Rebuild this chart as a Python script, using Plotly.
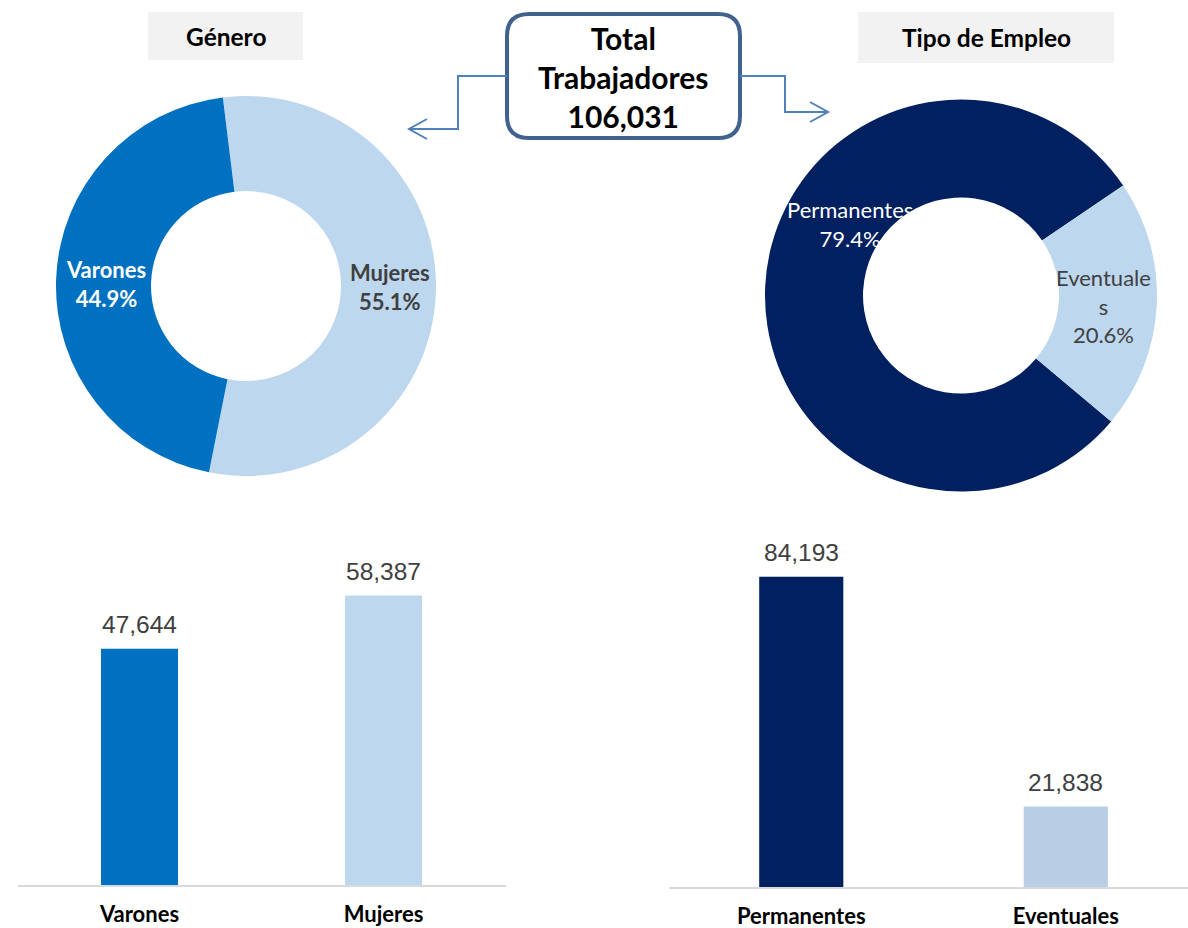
import plotly.graph_objects as go

W, H = 1188, 928

# ---------------- data ----------------
total_label = "Total<br>Trabajadores<br>106,031"
genero_title = "Género"
empleo_title = "Tipo de Empleo"

genero_cats = ["Mujeres", "Varones"]          # pie order (clockwise from top)
genero_vals = [58387, 47644]
genero_colors = ["#BDD7EE", "#0070C0"]
genero_textcolors = ["#404040", "#FFFFFF"]

bar_gen_cats = ["Varones", "Mujeres"]
bar_gen_vals = [47644, 58387]
bar_gen_colors = ["#0070C0", "#BDD7EE"]

empleo_cats = ["Permanentes", "Eventuales"]
empleo_vals = [84193, 21838]
empleo_pie_colors = ["#002060", "#BDD7EE"]
empleo_bar_colors = ["#002060", "#B9CDE5"]
empleo_textcolors = ["#FFFFFF", "#404040"]
empleo_label_text = ["Permanentes", "Eventuale<br>s"]


def X(px):
    return px / W


def Y(py):
    return 1 - py / H


fig = go.Figure()

# ---------------- donuts ----------------
fig.add_trace(go.Pie(
    labels=genero_cats, values=genero_vals, sort=False, direction="clockwise",
    rotation=-7, hole=0.5, textinfo="none",
    marker=dict(colors=genero_colors, line=dict(width=0)),
    domain=dict(x=[X(56), X(436)], y=[Y(476), Y(96)]),
    showlegend=False, hoverinfo="label+value+percent",
))

fig.add_trace(go.Pie(
    labels=empleo_cats, values=empleo_vals, sort=False, direction="clockwise",
    rotation=130, hole=0.5, textinfo="none",
    marker=dict(colors=empleo_pie_colors, line=dict(width=0)),
    domain=dict(x=[X(765), X(1157)], y=[Y(493), Y(98)]),
    showlegend=False, hoverinfo="label+value+percent",
))

# ---------------- bars ----------------
fig.add_trace(go.Bar(
    x=bar_gen_cats, y=bar_gen_vals, marker=dict(color=bar_gen_colors, line=dict(width=0)),
    width=0.316, xaxis="x", yaxis="y", showlegend=False,
))
fig.add_trace(go.Bar(
    x=empleo_cats, y=empleo_vals, marker=dict(color=empleo_bar_colors, line=dict(width=0)),
    width=0.318, xaxis="x2", yaxis="y2", showlegend=False,
))

annotations = []
valfont = dict(family="Liberation Sans", size=24.5, color="#404040")
for c, v in zip(bar_gen_cats, bar_gen_vals):
    annotations.append(dict(x=c, y=v, xref="x", yref="y", text=f"{v:,}", showarrow=False,
                            xanchor="center", yanchor="bottom", yshift=9, font=valfont))
for c, v in zip(empleo_cats, empleo_vals):
    annotations.append(dict(x=c, y=v, xref="x2", yref="y2", text=f"{v:,}", showarrow=False,
                            xanchor="center", yanchor="bottom", yshift=9, font=valfont))

# donut labels
gen_tot = sum(genero_vals)
gen_label_pos = {"Mujeres": (390, 287), "Varones": (106, 284)}
for c, v, col in zip(genero_cats, genero_vals, genero_textcolors):
    px, py = gen_label_pos[c]
    annotations.append(dict(x=X(px), y=Y(py), xref="paper", yref="paper",
                            text=f"<b>{c}</b><br><b>{v / gen_tot:.1%}</b>", showarrow=False,
                            xanchor="center", yanchor="middle",
                            font=dict(family="Lato", size=22, color=col)))
emp_tot = sum(empleo_vals)
emp_label_pos = [(850, 224), (1103, 306)]
for lab, v, col, (px, py) in zip(empleo_label_text, empleo_vals, empleo_textcolors, emp_label_pos):
    annotations.append(dict(x=X(px), y=Y(py), xref="paper", yref="paper",
                            text=f"{lab}<br>{v / emp_tot:.1%}", showarrow=False,
                            xanchor="center", yanchor="middle",
                            font=dict(family="Lato", size=22, color=col)))

# titles
annotations.append(dict(x=X(225.5), y=Y(37), xref="paper", yref="paper", text=f"<b>{genero_title}</b>",
                        showarrow=False, xanchor="center", yanchor="middle",
                        font=dict(family="Lato", size=24.5, color="#000000")))
annotations.append(dict(x=X(986), y=Y(38), xref="paper", yref="paper", text=f"<b>{empleo_title}</b>",
                        showarrow=False, xanchor="center", yanchor="middle",
                        font=dict(family="Lato", size=24.5, color="#000000")))
annotations.append(dict(x=X(623.5), y=Y(77), xref="paper", yref="paper", text=f"<b>{total_label}</b>",
                        showarrow=False, xanchor="center", yanchor="middle",
                        font=dict(family="Lato", size=30, color="#000000")))

shapes = []
shapes.append(dict(type="rect", xref="paper", yref="paper", x0=X(148), x1=X(303), y0=Y(60), y1=Y(12),
                   fillcolor="#F2F2F2", line=dict(width=0), layer="below"))
shapes.append(dict(type="rect", xref="paper", yref="paper", x0=X(858), x1=X(1114), y0=Y(63), y1=Y(12),
                   fillcolor="#F2F2F2", line=dict(width=0), layer="below"))

# rounded rectangle around total
x0, x1, y0, y1, r = 507, 740, 14, 138, 22
pts = (f"M {X(x0+r)},{Y(y0)} L {X(x1-r)},{Y(y0)} Q {X(x1)},{Y(y0)} {X(x1)},{Y(y0+r)} "
       f"L {X(x1)},{Y(y1-r)} Q {X(x1)},{Y(y1)} {X(x1-r)},{Y(y1)} "
       f"L {X(x0+r)},{Y(y1)} Q {X(x0)},{Y(y1)} {X(x0)},{Y(y1-r)} "
       f"L {X(x0)},{Y(y0+r)} Q {X(x0)},{Y(y0)} {X(x0+r)},{Y(y0)} Z")
shapes.append(dict(type="path", xref="paper", yref="paper", path=pts,
                   line=dict(color="#41618F", width=4), fillcolor="#FFFFFF", layer="below"))

conn = "#4F81BD"
# left connector
shapes.append(dict(type="path", xref="paper", yref="paper",
                   path=f"M {X(507)},{Y(76)} L {X(458)},{Y(76)} L {X(458)},{Y(129)} L {X(410)},{Y(129)}",
                   line=dict(color=conn, width=2)))
shapes.append(dict(type="path", xref="paper", yref="paper",
                   path=f"M {X(427)},{Y(119)} L {X(409)},{Y(129)} L {X(427)},{Y(139)}",
                   line=dict(color=conn, width=2)))
# right connector
shapes.append(dict(type="path", xref="paper", yref="paper",
                   path=f"M {X(740)},{Y(76)} L {X(785)},{Y(76)} L {X(785)},{Y(112)} L {X(827)},{Y(112)}",
                   line=dict(color=conn, width=2)))
shapes.append(dict(type="path", xref="paper", yref="paper",
                   path=f"M {X(810)},{Y(102)} L {X(828)},{Y(112)} L {X(810)},{Y(122)}",
                   line=dict(color=conn, width=2)))

axis_common = dict(showgrid=False, zeroline=False, fixedrange=True, automargin=False)
tickfont = dict(family="Lato", size=22, color="#000000")

fig.update_layout(
    width=W, height=H, margin=dict(l=0, r=0, t=0, b=0),
    paper_bgcolor="#FFFFFF", plot_bgcolor="rgba(0,0,0,0)",
    xaxis=dict(domain=[X(17.5), X(505.5)], type="category", range=[-0.5, 1.5],
               showline=True, linecolor="#D9D9D9", linewidth=2, ticks="",
               tickmode="array", tickvals=bar_gen_cats,
               ticktext=[f"<b>{c}</b>" for c in bar_gen_cats],
               tickfont=tickfont, ticklabelstandoff=9, anchor="y", **axis_common),
    yaxis=dict(domain=[Y(885), Y(538)], range=[0, 70000], visible=False, anchor="x", **axis_common),
    xaxis2=dict(domain=[X(669), 1.0], type="category", range=[-0.5, 1.462],
                showline=True, linecolor="#D9D9D9", linewidth=2, ticks="",
                tickmode="array", tickvals=empleo_cats,
                ticktext=[f"<b>{c}</b>" for c in empleo_cats],
                tickfont=tickfont, ticklabelstandoff=9, anchor="y2", **axis_common),
    yaxis2=dict(domain=[Y(887), Y(537)], range=[0, 95000], visible=False, anchor="x2", **axis_common),
    annotations=annotations, shapes=shapes,
)

fig.write_html("out.html", config={"displayModeBar": False},
               post_script="document.body.style.margin='0px';")
